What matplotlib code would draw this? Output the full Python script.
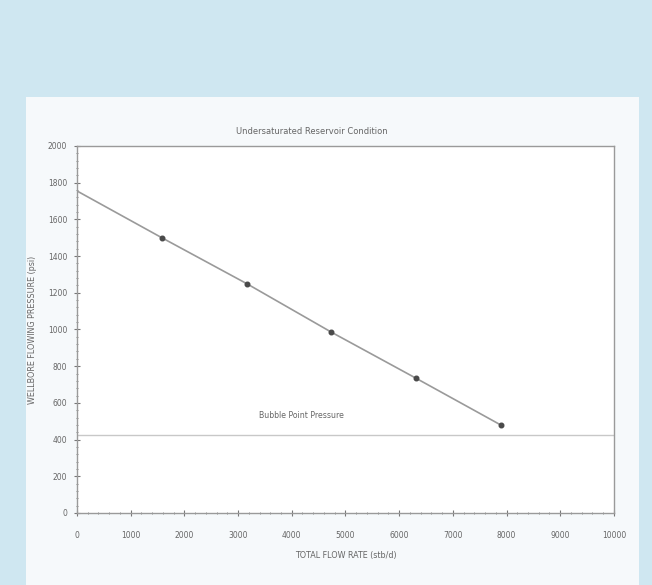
import matplotlib
matplotlib.use("Agg")
import matplotlib.pyplot as plt
from matplotlib.patches import Rectangle
from matplotlib.ticker import MultipleLocator

# well test points (rate stb/d, flowing pressure psi)
rate = [1580, 3160, 4740, 6310, 7890]
pwf = [1500, 1250, 985, 735, 480]
# straight-line IPR drawn from zero rate through the points
ipr_rate = [0, 1580, 3160, 4740, 6310, 7890]
ipr_pwf = [1755, 1500, 1250, 985, 735, 480]
bubble_point = 425

fig = plt.figure(figsize=(6.52, 5.85), dpi=100)
fig.patch.set_facecolor("#cfe7f1")

# pale page inside the blue frame
bg = fig.add_axes([0, 0, 1, 1], zorder=0)
bg.set_axis_off()
bg.add_patch(Rectangle((0.04, 0.0), 0.94, 0.835, facecolor="#f6f9fb", edgecolor="none"))
bg.set_xlim(0, 1)
bg.set_ylim(0, 1)
bg.text(0.478, 0.775, "Undersaturated Reservoir Condition", fontsize=6, color="#666666",
        ha="center", va="center")

ax = fig.add_axes([0.118, 0.1231, 0.8236, 0.6274], zorder=1)
ax.set_facecolor("white")

ax.plot(ipr_rate, ipr_pwf, color="#9a9a9a", linewidth=1.2, zorder=2)
ax.plot(rate, pwf, linestyle="none", marker="o", ms=3.3, color="#4a4a4a", zorder=3)
ax.axhline(bubble_point, color="#c8c8c8", linewidth=1.0, zorder=1)
ax.text(4190, 529, "Bubble Point Pressure", fontsize=5.6, color="#666666",
        ha="center", va="center")

ax.set_xlim(0, 10000)
ax.set_ylim(0, 2000)
ax.xaxis.set_major_locator(MultipleLocator(1000))
ax.xaxis.set_minor_locator(MultipleLocator(200))
ax.yaxis.set_major_locator(MultipleLocator(200))
ax.yaxis.set_minor_locator(MultipleLocator(40))
ax.tick_params(which="both", direction="inout", colors="#777777", labelsize=5.5,
               labelcolor="#666666")
ax.tick_params(which="major", length=4)
ax.tick_params(which="minor", length=2)
ax.tick_params(axis="x", pad=11)
ax.tick_params(axis="y", pad=5)
for s in ax.spines.values():
    s.set_color("#9a9a9a")
    s.set_linewidth(1.0)

ax.set_xlabel("TOTAL FLOW RATE (stb/d)", fontsize=5.8, color="#666666", labelpad=8)
ax.set_ylabel("WELLBORE FLOWING PRESSURE (psi)", fontsize=5.8, color="#666666", labelpad=8)

fig.savefig("out.png", dpi=100, facecolor=fig.get_facecolor())
